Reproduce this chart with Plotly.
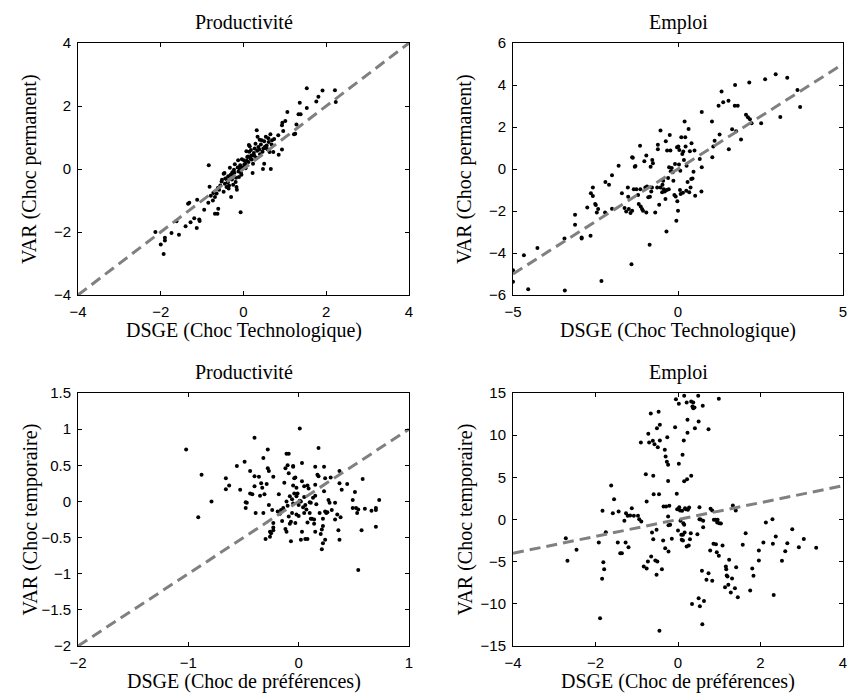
import plotly.graph_objects as go

# ---------------- data ----------------
# Panel 1: Productivité, DSGE (Choc Technologique) vs VAR (Choc permanent)
p1_x = [-2.13, -2.0, -1.93, -1.90, -1.90, -1.74, -1.56, -1.62, -1.40, -1.34, -1.31, -1.28, -1.19, -1.13,
        -1.12, -1.07, -1.06, -0.95, -0.85, -0.84, -0.82, -0.79, -0.74, -0.73, -0.69, -0.63, -0.61, -0.69,
        -0.65, -0.59, -0.53, -0.52, -0.48, -0.46, -0.45, -0.41, -0.39, -0.37, -0.35, -0.33, -0.30, -0.27,
        -0.25, -0.23, -0.21, -0.19, -0.17, -0.16, -0.13, -0.11, -0.09, -0.07, -0.06, -0.04, 0.01, 0.04,
        0.07, 0.11, 0.13, 0.15, 0.17, 0.19, 0.22, 0.23, 0.25, 0.27, 0.31, 0.32, 0.34, 0.36, 0.39, 0.40,
        0.44, 0.47, 0.48, 0.50, 0.52, 0.54, 0.56, 0.59, 0.61, 0.63, 0.65, 0.66, 0.69, 0.72, 0.84, 0.85,
        0.93, 0.93, 0.94, 1.01, 1.06, 0.96, 1.22, 1.25, 1.28, 1.33, 1.36, 1.38, 1.53, 1.53, 1.76, 1.81,
        1.91, 2.21, 2.23,
        -0.44, -0.38, -0.31, -0.28, -0.22, -0.18, -0.14, -0.12, -0.08, -0.05, -0.02, 0.02, 0.05, 0.08,
        0.09, 0.12, 0.14, 0.18, 0.20, 0.26, 0.29, 0.33, 0.38, 0.42, 0.46, 0.50, 0.55, 0.60, 0.68, 0.74,
        -0.56, -0.62, -0.48, -0.36, -0.25]
p1_y = [-2.0, -2.4, -2.7, -2.18, -2.27, -2.03, -2.09, -1.66, -1.82, -1.10, -1.07, -1.69, -1.56, -1.87,
        -0.98, -1.60, -1.65, -1.29, -1.07, 0.12, -0.56, -0.85, -1.0, -0.76, -1.42, -1.42, -1.26, -0.89,
        -0.78, -0.66, -0.40, -0.34, -0.15, -0.13, -0.47, -0.57, -0.36, -0.23, -0.52, 0.04, -0.89, -0.10,
        -0.20, -0.02, 0.15, -0.41, -0.57, -0.66, 0.28, -0.25, 0.01, -1.37, -0.13, 0.31, 0.28, 0.17,
        0.56, 0.40, 0.76, 0.72, 0.33, 0.43, -0.13, 0.17, 0.51, 0.65, 0.36, 1.23, 1.02, 0.70, 0.93, 0.47,
        0.91, 0.0, 0.65, 0.17, 0.71, 1.02, 0.75, 0.62, 0.86, 0.54, 1.10, 0.0, 0.91, 0.54, 1.07, 0.45,
        0.62, 1.39, 1.47, 1.52, 1.81, 1.21, 1.10, 1.12, 1.41, 1.74, 2.10, 1.74, 2.56, 1.94, 2.14, 2.29,
        2.49, 2.50, 2.13,
        -0.30, -0.42, -0.18, -0.33, -0.12, -0.28, 0.05, -0.08, 0.12, -0.18, 0.05, 0.14, 0.02, 0.26,
        0.38, 0.22, 0.55, 0.60, 0.30, 0.42, 0.80, 0.58, 0.62, 0.78, 0.55, 0.88, 0.66, 0.98, 0.78, 0.95,
        -0.52, -0.60, -0.72, -0.62, -0.50]

# Panel 2: Emploi, DSGE (Choc Technologique) vs VAR (Choc permanent)
p2_x = [-5.0, -5.0, -4.67, -4.54, -4.26, -3.44, -3.43, -3.12, -3.12, -2.92, -2.92, -2.75, -2.65, -2.64,
        -2.58, -2.58, -2.51, -2.49, -2.46, -2.42, -2.32, -2.21, -2.20, -2.09, -2.00, -2.00, -1.80, -1.70,
        -1.62, -1.57, -1.52, -1.51, -1.49, -1.44, -1.41, -1.39, -1.39, -1.37, -1.34, -1.31, -1.29, -1.26,
        -1.21, -1.19, -1.15, -1.14, -1.13, -1.09, -1.06, -1.02, -0.99, -0.96, -0.96, -0.94, -0.90, -0.86,
        -0.85, -0.83, -0.81, -0.79, -0.78, -0.76, -0.69, -0.63, -0.61, -0.61, -0.57, -0.53, -0.53, -0.48,
        -0.47, -0.45, -0.43, -0.40, -0.38, -0.37, -0.35, -0.34, -0.33, -0.30, -0.28, -0.27, -0.25, -0.23,
        -0.22, -0.19, -0.16, -0.14, -0.11, -0.09, -0.07, -0.05, -0.03, -0.02, 0.0, 0.01, 0.03, 0.04,
        0.06, 0.07, 0.08, 0.10, 0.13, 0.15, 0.16, 0.18, 0.20, 0.22, 0.23, 0.25, 0.26, 0.29, 0.32, 0.34,
        0.36, 0.38, 0.40, 0.41, 0.44, 0.47, 0.50, 0.52, 0.66, 0.71, 0.72, 0.72, 1.03, 1.04, 1.07, 1.11,
        1.23, 1.26, 1.32, 1.37, 1.53, 1.54, 1.64, 1.72, 1.73, 1.76, 1.81, 1.91, 2.06, 2.12, 2.16, 2.18,
        2.23, 2.52, 2.64, 2.96, 3.10, 3.31, 3.62, 3.70]
p2_y = [-4.82, -5.37, -4.11, -5.73, -3.76, -3.31, -5.78, -2.18, -2.66, -3.26, -3.31, -1.83, -3.18, -1.16,
        -0.88, -1.29, -1.67, -1.72, -2.07, -1.91, -5.33, -2.07, -0.62, -0.75, -1.89, -0.30, 0.16, -1.16,
        -1.86, -2.02, -0.88, -1.32, -1.91, -2.10, -4.54, -1.99, 0.56, 0.53, -0.96, 0.11, 0.14, -0.96,
        -1.24, -1.67, 1.11, -0.96, -1.78, -1.91, -1.99, 0.37, -0.88, -2.07, 0.64, -0.83, -1.35, -3.61,
        -1.32, 0.11, -1.07, -0.88, 0.43, 0.27, -2.07, -0.88, 0.94, 1.16, -1.70, 1.83, -0.88, -1.11,
        -0.75, -0.56, -0.96, -1.07, -1.43, 1.32, -2.98, -1.00, 0.88, -0.43, -0.96, 0.08, 1.62, 0.88,
        -0.11, 0.05, -0.16, -0.56, -1.24, 0.24, -1.31, -2.47, 1.04, -1.54, -1.99, 1.07, 0.21, 0.91,
        -1.00, -0.08, -1.19, 1.51, 0.72, -1.13, 0.83, 0.43, 2.26, 1.51, 1.07, -1.04, 0.16, -0.62, 1.91, -1.11,
        0.84, -0.88, -0.48, 1.23, -0.45, -0.13, 0.88, -1.27, 0.48, -1.07, 0.08, 2.71, 2.26, 0.56, 1.07, 1.35,
        3.01, 1.64, 3.69, 3.18, 3.25, 0.94, 1.89, 3.01, 4.00, 1.80, 3.01, 1.40, 2.58, 2.47, 4.12, 2.37,
        2.18, 2.18, 4.27, 4.51, 2.48, 4.35, 3.76, 2.95]

# Panel 3: Productivité, DSGE (Choc de préférences) vs VAR (Choc temporaire)
p3_x = [-1.02, -0.91, -0.88, -0.79, -0.66, -0.66, -0.63, -0.56, -0.53, -0.49, -0.48, -0.48, -0.47, -0.44,
        -0.44, -0.42, -0.40, -0.40, -0.40, -0.39, -0.36, -0.35, -0.34, -0.33, -0.32, -0.32, -0.31, -0.30,
        -0.29, -0.28, -0.28, -0.27, -0.27, -0.26, -0.26, -0.25, -0.24, -0.23, -0.23, -0.23, -0.23, -0.19,
        -0.18, -0.17, -0.16, -0.15, -0.14, -0.13, -0.12, -0.12, -0.11, -0.11, -0.11, -0.10, -0.10, -0.09,
        -0.09, -0.09, -0.08, -0.08, -0.07, -0.07, -0.06, -0.06, -0.05, -0.05, -0.05, -0.05, -0.04, -0.04,
        -0.03, -0.03, -0.02, -0.02, -0.02, -0.01, 0.0, 0.0, 0.01, 0.01, 0.02, 0.02, 0.03, 0.03, 0.03, 0.04,
        0.05, 0.05, 0.05, 0.06, 0.06, 0.07, 0.08, 0.08, 0.08, 0.09, 0.10, 0.10, 0.11, 0.11, 0.12, 0.13,
        0.14, 0.14, 0.15, 0.15, 0.15, 0.15, 0.16, 0.17, 0.18, 0.18, 0.19, 0.20, 0.21, 0.21, 0.22, 0.22,
        0.22, 0.23, 0.23, 0.24, 0.24, 0.24, 0.25, 0.26, 0.27, 0.28, 0.29, 0.30, 0.33, 0.33, 0.35, 0.37,
        0.37, 0.36, 0.37, 0.38, 0.39, 0.44, 0.54,
        0.58, 0.51, 0.49, 0.73, 0.49, 0.52, 0.54, 0.53, 0.60, 0.66, 0.70, 0.70, 0.57, 0.70]
p3_y = [0.72, -0.22, 0.37, 0.0, 0.32, 0.17, 0.22, 0.49, 0.16, 0.55, -0.01, -0.09, -0.02, 0.42,
        0.11, 0.10, 0.88, 0.35, 0.21, -0.16, 0.34, 0.08, 0.25, 0.19, 0.60, -0.16, 0.10, -0.52,
        0.24, 0.72, 0.46, 0.42, -0.05, -0.42, -0.49, -0.44, -0.12, 0.34, -0.30, -0.36, -0.40, -0.14,
        0.10, -0.17, -0.12, -0.27, -0.09, 0.26, -0.38, 0.46, 0.66, 0.0, -0.42, -0.06, 0.50, 0.39,
        0.66, -0.21, -0.31, 0.07, -0.28, -0.55, -0.16, 0.03, 0.48, 0.22, -0.03, 0.49, 0.32, 0.11,
        0.33, -0.30, 0.07, -0.18, 0.19, 0.11, -0.20, -0.05, 1.01, 0.01, 0.0, -0.53, -0.42, 0.28, 0.53, -0.08,
        -0.16, 0.06, 0.21, -0.52, -0.05, -0.11, -0.29, 0.22, -0.52, 0.18, -0.01, -0.16, -0.02, -0.24, -0.24, 0.05,
        -0.25, -0.31, 0.48, 0.08, 0.23, -0.42, -0.04, 0.37, 0.74, 0.35, -0.16, -0.45, -0.66, -0.39, -0.34, -0.24,
        -0.58, 0.14, 0.48, 0.32, -0.14, -0.53, -0.16, -0.15, 0.02, -0.02, 0.33, -0.12, -0.02, -0.25, -0.18, 0.42,
        0.25, -0.40, -0.53, -0.22, 0.16, 0.24, -0.95,
        0.31, 0.13, 0.02, 0.02, -0.09, -0.09, -0.11, -0.16, -0.10, -0.13, -0.09, -0.12, -0.40, -0.35]

# Panel 4: Emploi, DSGE (Choc de préférences) vs VAR (Choc temporaire)
p4_x = [-2.72, -2.68, -2.46, -1.92, -1.89, -1.84, -1.83, -1.81, -1.79, -1.75, -1.62, -1.58, -1.55, -1.46,
        -1.44, -1.40, -1.36, -1.30, -1.26, -1.27, -1.20, -1.22, -1.16, -1.12, -1.07, -0.97, -0.94, -0.89,
        -0.90, -0.83, -0.78, -0.76, -0.76, -0.73, -0.72, -0.70, -0.66, -0.65, -0.63, -0.61, -0.60, -0.60,
        -0.59, -0.57, -0.55, -0.52, -0.52, -0.51, -0.50, -0.49, -0.47, -0.46, -0.44, -0.44, -0.39, -0.36,
        -0.35, -0.32, -0.31, -0.30, -0.29, -0.27, -0.26, -0.24, -0.24, -0.24, -0.23, -0.23, -0.21, -0.19,
        -0.15, -0.07, -0.05, -0.03, -0.02, 0.0, 0.02, 0.02, 0.03, 0.05, 0.06, 0.08, 0.09, 0.10, 0.11, 0.12,
        0.12, 0.13, 0.14, 0.15, 0.15, 0.15, 0.16, 0.17, 0.19, 0.21, 0.21, 0.22, 0.23, 0.23, 0.24, 0.26,
        0.27, 0.29, 0.31, 0.32, 0.32, 0.34, 0.35, 0.37, 0.37, 0.40, 0.41, 0.47, 0.49, 0.50, 0.50, 0.52,
        0.52, 0.53, 0.55, 0.59, 0.58, 0.60, 0.61, 0.61, 0.63, 0.69, 0.74, 0.74, 0.78, 0.79, 0.83, 0.83,
        0.86, 0.87, 0.91, 0.92, 0.94, 0.95, 0.96, 0.99, 0.99, 1.00, 1.04, 1.08, 1.14, 1.16, 1.17, 1.18,
        1.20, 1.22, 1.24, 1.28, 1.31, 1.33, 1.38, 1.40, 1.41, 1.45, 1.57, 1.64, 1.75, 1.80, 1.83, 1.96,
        1.96, 2.07, 2.13, 2.29, 2.30, 2.32, 2.37, 2.77, 2.65, 3.05, 2.93, 3.35, 2.60, 2.52, -0.45]
p4_y = [-2.21, -4.90, -3.60, -2.73, -11.70, -7.04, 1.03, -5.06, -5.89, -1.50, 4.03, 0.75, 2.41, -2.73,
        0.95, -3.99, -3.99, -0.16, 0.75, -2.73, -3.28, 0.43, 0.47, 1.34, 0.43, 0.43, 0.04, -0.24,
        9.13, -5.57, 5.38, 2.13, -5.81, -4.98, 10.16, 9.13, 12.57, -4.39, -1.54, 9.33, 5.18, -2.33,
        3.00, 8.93, -4.86, -6.56, -1.23, 10.83, -4.98, 8.58, 12.77, 3.00, 9.37, 11.23, -5.89, -2.49,
        1.54, 8.26, -3.40, 7.47, 1.54, 6.84, 9.76, 6.48, 4.58, 0.36, -3.79, -0.67, 1.62, -0.63,
        -2.29, 10.95, 14.27, 3.04, 1.23, -1.30, 13.72, 6.60, 1.46, 1.07, -0.16, -1.82, -2.41, 1.03, 7.67, -1.82,
        -2.49, -0.43, 9.37, 4.55, 14.66, -0.63, -1.54, 1.34, 1.23, 13.87, -3.20, 4.78, 10.28, 11.82, 1.15, -3.08,
        1.42, -2.33, -1.62, 5.18, 13.99, -10.02, 13.40, 13.87, 13.20, 13.28, 10.83, -1.74, 14.66, 11.62, -9.33, 1.46,
        0.04, -10.30, 0.0, -12.43, -6.09, 13.48, -0.16, -0.91, -9.66, -7.15, -6.36, 10.71, -3.68, 1.26, 1.07, -7.27,
        -2.89, -0.04, -0.04, -2.92, -3.87, -0.36, -0.04, 14.31, -4.31, -0.43, -0.47, -3.08, -8.02, -5.57, -5.89, -6.64,
        -6.76, -7.75, -4.78, -8.66, -6.99, 1.66, -8.14, 1.07, -5.65, -9.21, -3.00, -1.62, -8.42, -5.81, -6.68, -4.86,
        -3.68, -2.73, -0.36, 0.04, -2.89, -8.95, -2.02, -1.16, -2.82, -2.31, -3.30, -3.34, -3.77, -4.88, -13.18]

# axis settings per panel
ranges_x = [[-4, 4], [-5, 5], [-2, 1], [-4, 4]]
ranges_y = [[-4, 4], [-6, 6], [-2, 1.5], [-15, 15]]
ticks_x = [[-4, -2, 0, 2, 4], [-5, 0, 5], [-2, -1, 0, 1], [-4, -2, 0, 2, 4]]
ticks_y = [[-4, -2, 0, 2, 4], [-6, -4, -2, 0, 2, 4, 6], [-2, -1.5, -1, -0.5, 0, 0.5, 1, 1.5],
           [-15, -10, -5, 0, 5, 10, 15]]
titles = ["Productivité", "Emploi", "Productivité", "Emploi"]
xlabels = ["DSGE (Choc Technologique)", "DSGE (Choc Technologique)",
           "DSGE (Choc de préférences)", "DSGE (Choc de préférences)"]
ylabels = ["VAR (Choc permanent)", "VAR (Choc permanent)",
           "VAR (Choc temporaire)", "VAR (Choc temporaire)"]
data = [(p1_x, p1_y), (p2_x, p2_y), (p3_x, p3_y), (p4_x, p4_y)]

# ---------------- layout geometry (window pixels) ----------------
W, H = 849, 694
col_px = [(78, 409), (513, 843)]
row_px = [(43, 295), (393, 646)]


def fx(px):
    return px / W


def fy(py):
    return 1 - py / H


SERIF = "Liberation Serif, Times New Roman, serif"
SANS = "Liberation Sans, Arial, Helvetica, sans-serif"

fig = go.Figure()
layout = dict(template="none", width=W, height=H, margin=dict(l=0, r=0, t=0, b=0, autoexpand=False),
              paper_bgcolor="white", plot_bgcolor="white", showlegend=False)
annotations = []

for i in range(4):
    r, c = divmod(i, 2)
    x0, x1 = col_px[c]
    y0, y1 = row_px[r]
    xd = [fx(x0), fx(x1)]
    yd = [fy(y1), fy(y0)]
    n = i + 1
    xa = "x" if n == 1 else f"x{n}"
    ya = "y" if n == 1 else f"y{n}"
    common = dict(showline=True, linecolor="black", linewidth=1, mirror="ticks",
                  ticks="inside", ticklen=4, tickcolor="black", tickwidth=1,
                  showgrid=False, zeroline=False, automargin=False,
                  ticklabeloverflow="allow",
                  tickfont=dict(family=SANS, size=15, color="black"))
    layout[f"xaxis{'' if n == 1 else n}"] = dict(domain=xd, anchor=ya, range=ranges_x[i],
                                                 tickvals=ticks_x[i], ticklabelstandoff=3, **common)
    layout[f"yaxis{'' if n == 1 else n}"] = dict(domain=yd, anchor=xa, range=ranges_y[i],
                                                 tickvals=ticks_y[i], ticklabelstandoff=3, **common)
    px, py = data[i]
    fig.add_trace(go.Scatter(x=px, y=py, mode="markers", xaxis=xa, yaxis=ya,
                             marker=dict(color="black", size=4, line=dict(width=0)), cliponaxis=True))
    fig.add_trace(go.Scatter(x=ranges_x[i], y=ranges_x[i], mode="lines", xaxis=xa, yaxis=ya,
                             line=dict(color="#808080", width=3, dash="11px,6px")))
    cx = fx((x0 + x1) / 2)
    annotations.append(dict(text=titles[i], x=cx, y=fy(y0 - 21), xref="paper", yref="paper",
                            showarrow=False, xanchor="center", yanchor="middle",
                            font=dict(family=SERIF, size=20, color="black")))
    annotations.append(dict(text=xlabels[i], x=cx, y=fy(y1 + 35), xref="paper", yref="paper",
                            showarrow=False, xanchor="center", yanchor="middle",
                            font=dict(family=SERIF, size=20, color="black")))
    annotations.append(dict(text=ylabels[i], x=fx(x0 - 48), y=fy((y0 + y1) / 2),
                            xref="paper", yref="paper", textangle=-90,
                            showarrow=False, xanchor="center", yanchor="middle",
                            font=dict(family=SERIF, size=20, color="black")))

layout["annotations"] = annotations
fig.update_layout(**layout)
# remove the default page margin so the figure fills the 849x694 window exactly
fig.write_html("out.html", config={"displayModeBar": False},
               post_script="document.body.style.margin='0';document.body.style.overflow='hidden';")
